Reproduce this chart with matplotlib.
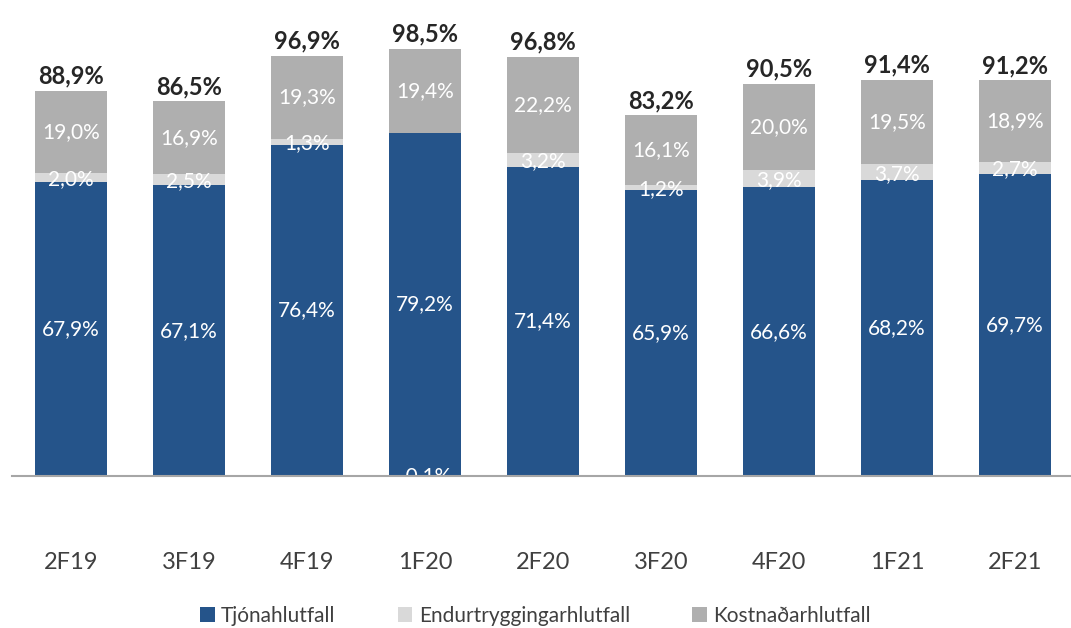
import numpy as np
import matplotlib.pyplot as plt

plt.rcParams['font.family'] = ['Lato', 'DejaVu Sans']

quarters = ["2F19", "3F19", "4F19", "1F20", "2F20", "3F20", "4F20", "1F21", "2F21"]
claims = [67.9, 67.1, 76.4, 79.2, 71.4, 65.9, 66.6, 68.2, 69.7]
reinsurance = [2.0, 2.5, 1.3, -0.1, 3.2, 1.2, 3.9, 3.7, 2.7]
expenses = [19.0, 16.9, 19.3, 19.4, 22.2, 16.1, 20.0, 19.5, 18.9]
totals = [88.9, 86.5, 96.9, 98.5, 96.8, 83.2, 90.5, 91.4, 91.2]
series_names = ["Tjónahlutfall", "Endurtryggingarhlutfall", "Kostnaðarhlutfall"]

c_blue = "#25548a"
c_light = "#d9d9d9"
c_grey = "#afafaf"


def fmt(v):
    return f"{v:.1f}%".replace(".", ",")


fig = plt.figure(figsize=(10.71, 6.28), dpi=100)
ax = fig.add_axes([12 / 1071, 152 / 628, 1062 / 1071, 455 / 628])

x = np.arange(len(quarters))
claims = np.array(claims)
reins = np.array(reinsurance)
exp_ = np.array(expenses)
w = 0.61

# reinsurance sits on top of claims when positive, below it otherwise
rein_bottom = np.where(reins >= 0, claims, 0)
exp_bottom = claims + np.clip(reins, 0, None)

ax.bar(x, claims, w, color=c_blue, label=series_names[0], zorder=2)
ax.bar(x, reins, w, bottom=rein_bottom, color=c_light, label=series_names[1], zorder=2)
ax.bar(x, exp_, w, bottom=exp_bottom, color=c_grey, label=series_names[2], zorder=2)

for i in range(len(x)):
    ax.text(x[i], claims[i] / 2, fmt(claims[i]), ha="center", va="center",
            color="white", fontsize=15, zorder=3)
    if reins[i] >= 0:
        ax.text(x[i], claims[i] + reins[i] / 2 - 0.3, fmt(reins[i]), ha="center", va="center",
                color="white", fontsize=15, zorder=3)
    else:
        ax.text(x[i], 0, fmt(reins[i]), ha="center", va="center",
                color="white", fontsize=15, zorder=3, clip_on=True)
    ax.text(x[i], exp_bottom[i] + exp_[i] / 2, fmt(exp_[i]), ha="center", va="center",
            color="white", fontsize=15, zorder=3)
    ax.text(x[i], exp_bottom[i] + exp_[i] + 3.4, fmt(totals[i]), ha="center", va="center",
            color="#262626", fontsize=17, fontweight="bold", zorder=3, clip_on=False)

ax.set_xlim(-0.5, len(x) - 0.5)
ax.set_ylim(0, 105)
for s in ["top", "right", "left"]:
    ax.spines[s].set_visible(False)
ax.spines["bottom"].set_color("#a6a6a6")
ax.spines["bottom"].set_linewidth(1.5)
ax.spines["bottom"].set_zorder(4)
ax.set_yticks([])
ax.set_xticks(x)
ax.set_xticklabels(quarters, fontsize=17, color="#404040")
ax.tick_params(axis="x", length=0, pad=55)

fig.legend(loc="center", bbox_to_anchor=(0.5, 12 / 628), ncol=3, frameon=False,
           fontsize=15, handlelength=0.7, handleheight=0.7, handletextpad=0.3,
           columnspacing=3.0, labelcolor="#404040")

fig.savefig("out.png", dpi=100)
